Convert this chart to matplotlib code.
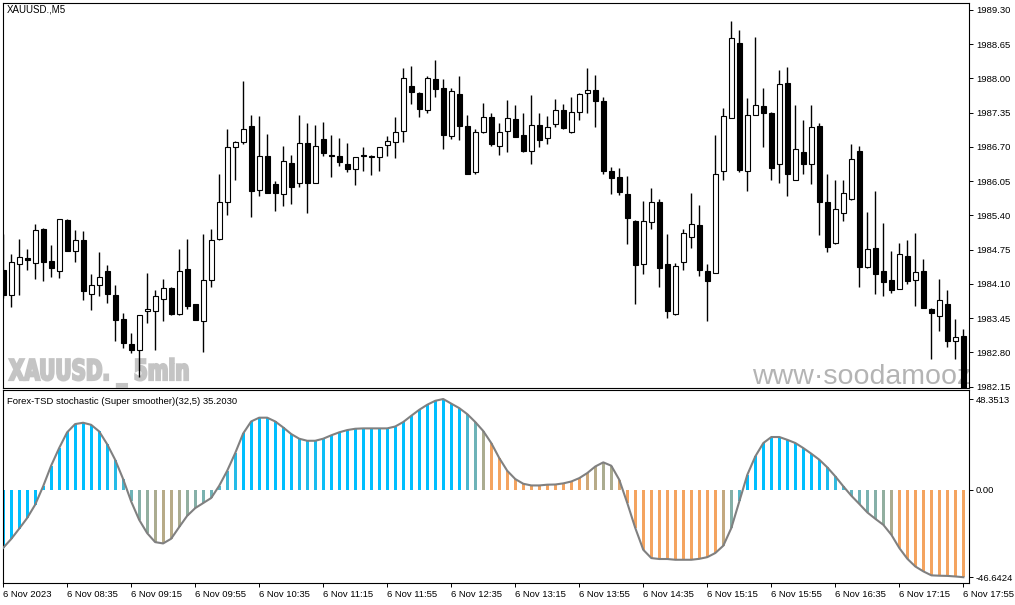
import numpy as np
import matplotlib
matplotlib.use("Agg")
import matplotlib.pyplot as plt
from matplotlib.colors import to_rgb
from matplotlib.patheffects import AbstractPathEffect
from matplotlib.transforms import Affine2D

# XAUUSD M5 candles, 6 Nov 2023
opens = [1984.37, 1983.88, 1984.47, 1984.60, 1984.49, 1985.15, 1984.53, 1984.35, 1985.32, 1984.73,
         1984.93, 1983.90, 1984.07, 1984.34, 1983.88, 1983.43, 1982.96, 1982.85, 1983.59, 1983.59,
         1983.82, 1984.03, 1983.53, 1984.39, 1983.71, 1983.40, 1984.18, 1984.95, 1985.66, 1986.70,
         1986.79, 1987.10, 1985.89, 1986.52, 1985.99, 1985.81, 1986.40, 1986.02, 1986.78, 1986.02,
         1986.84, 1986.55, 1986.52, 1986.38, 1986.27, 1986.55, 1986.53, 1986.50, 1986.74, 1986.80,
         1987.00, 1987.86, 1987.73, 1987.39, 1987.99, 1987.82, 1986.91, 1987.71, 1987.10, 1986.22,
         1986.98, 1987.27, 1986.72, 1987.00, 1987.22, 1986.92, 1986.62, 1987.12, 1986.87, 1987.14,
         1987.39, 1986.98, 1987.37, 1987.73, 1987.78, 1987.56, 1986.25, 1986.13, 1985.81, 1985.29,
         1984.48, 1985.28, 1985.66, 1984.47, 1983.52, 1984.51, 1984.99, 1985.21, 1984.34, 1984.31,
         1986.25, 1987.25, 1988.67, 1986.25, 1987.31, 1987.48, 1987.35, 1986.38, 1987.92, 1986.08,
         1986.61, 1986.38, 1987.10, 1985.66, 1984.87, 1985.45, 1985.71, 1986.63, 1984.42, 1984.79,
         1984.34, 1984.17, 1984.01, 1984.62, 1984.17, 1984.34, 1983.63, 1983.50, 1983.71, 1983.01,
         1983.12]
highs = [1985.04, 1984.66, 1984.96, 1984.77, 1985.23, 1985.16, 1984.83, 1985.34, 1985.34, 1985.13,
         1985.10, 1984.29, 1984.70, 1984.45, 1984.07, 1983.54, 1983.16, 1983.51, 1984.30, 1983.99,
         1984.20, 1984.04, 1984.77, 1984.96, 1983.71, 1985.04, 1985.15, 1986.18, 1987.04, 1986.82,
         1987.94, 1987.30, 1987.28, 1986.94, 1986.05, 1986.71, 1986.54, 1987.30, 1987.16, 1987.11,
         1987.18, 1986.92, 1986.86, 1986.77, 1986.50, 1986.69, 1986.54, 1986.70, 1986.90, 1987.26,
         1988.19, 1988.23, 1987.74, 1988.04, 1988.34, 1987.99, 1987.82, 1988.04, 1987.30, 1987.04,
         1987.54, 1987.35, 1987.16, 1987.58, 1987.49, 1987.34, 1987.68, 1987.35, 1987.28, 1987.60,
         1987.51, 1987.64, 1987.73, 1988.19, 1988.07, 1987.65, 1986.31, 1986.29, 1986.14, 1985.31,
         1985.67, 1985.91, 1985.71, 1985.04, 1984.49, 1985.15, 1985.82, 1985.59, 1984.47, 1986.92,
         1987.44, 1989.08, 1988.92, 1987.63, 1988.79, 1987.81, 1987.37, 1988.16, 1988.22, 1987.49,
         1987.20, 1987.49, 1987.16, 1986.19, 1986.08, 1986.08, 1986.76, 1986.72, 1985.46, 1985.86,
         1985.25, 1984.72, 1984.87, 1984.93, 1985.06, 1984.57, 1983.64, 1984.20, 1983.98, 1983.44,
         1983.25]
lows = [1983.84, 1983.67, 1983.89, 1984.36, 1984.20, 1984.15, 1984.23, 1984.22, 1984.73, 1984.52,
        1983.79, 1983.60, 1983.87, 1983.74, 1983.02, 1982.89, 1982.78, 1982.34, 1983.36, 1982.85,
        1983.39, 1983.51, 1983.51, 1983.63, 1983.41, 1982.81, 1984.04, 1984.94, 1985.40, 1986.08,
        1986.75, 1985.37, 1985.76, 1985.83, 1985.48, 1985.58, 1985.62, 1985.94, 1985.45, 1986.01,
        1986.53, 1986.13, 1986.33, 1986.22, 1985.98, 1986.24, 1986.17, 1986.25, 1986.52, 1986.49,
        1986.79, 1987.51, 1987.27, 1987.35, 1987.64, 1986.66, 1986.85, 1986.83, 1986.19, 1986.19,
        1986.96, 1986.72, 1986.54, 1986.61, 1986.89, 1986.61, 1986.37, 1986.70, 1986.75, 1987.08,
        1987.04, 1986.96, 1987.20, 1987.35, 1987.08, 1986.19, 1985.81, 1985.78, 1984.85, 1983.72,
        1984.29, 1985.14, 1984.04, 1983.46, 1983.51, 1984.37, 1984.78, 1984.25, 1983.40, 1984.30,
        1986.08, 1987.24, 1986.22, 1985.86, 1987.30, 1986.70, 1986.08, 1986.02, 1985.77, 1986.08,
        1986.19, 1986.00, 1985.03, 1984.71, 1984.86, 1985.29, 1985.70, 1984.04, 1984.41, 1983.91,
        1983.87, 1983.92, 1984.00, 1984.09, 1983.68, 1983.65, 1982.68, 1983.21, 1982.91, 1982.67,
        1981.95]
closes = [1983.89, 1984.52, 1984.61, 1984.56, 1985.13, 1984.52, 1984.40, 1985.34, 1984.73, 1984.93,
          1983.97, 1984.07, 1984.24, 1983.91, 1983.41, 1982.97, 1982.85, 1983.51, 1983.63, 1983.87,
          1984.03, 1983.53, 1984.35, 1983.68, 1983.41, 1984.18, 1984.94, 1985.66, 1986.70, 1986.79,
          1987.03, 1985.86, 1986.53, 1985.83, 1985.83, 1986.44, 1985.94, 1986.78, 1986.02, 1986.72,
          1986.58, 1986.53, 1986.41, 1986.28, 1986.50, 1986.53, 1986.51, 1986.70, 1986.82, 1986.99,
          1988.01, 1987.74, 1987.42, 1988.01, 1987.80, 1986.92, 1987.75, 1987.09, 1986.19, 1986.98,
          1987.27, 1986.75, 1986.99, 1987.25, 1986.89, 1986.63, 1987.12, 1986.83, 1987.08, 1987.39,
          1987.05, 1987.37, 1987.71, 1987.77, 1987.57, 1986.25, 1986.11, 1985.85, 1985.35, 1984.46,
          1985.30, 1985.66, 1984.40, 1983.58, 1984.43, 1985.06, 1985.24, 1984.37, 1984.16, 1986.19,
          1987.29, 1988.77, 1986.26, 1987.31, 1987.50, 1987.35, 1986.30, 1987.90, 1986.19, 1986.65,
          1986.38, 1987.08, 1985.66, 1984.80, 1985.53, 1985.83, 1986.46, 1984.42, 1984.77, 1984.29,
          1984.14, 1983.99, 1984.66, 1984.16, 1984.32, 1983.65, 1983.54, 1983.80, 1983.01, 1983.10,
          1982.00]

# Forex-TSD stochastic (Super smoother)(32,5)
osc = [-31.0, -26.3, -20.8, -15.1, -8.0, 1.8, 12.8, 22.2, 30.6, 35.0,
       35.7, 34.6, 31.1, 24.3, 16.0, 5.7, -6.2, -16.0, -23.1, -27.9,
       -28.6, -26.1, -19.9, -13.9, -9.8, -7.1, -4.4, 2.1, 10.1, 19.5,
       30.0, 36.4, 38.4, 38.4, 36.4, 33.2, 29.7, 27.2, 26.1, 26.1,
       27.2, 29.0, 30.6, 31.8, 32.5, 32.7, 32.7, 32.7, 32.7, 33.7,
       36.1, 39.4, 42.6, 45.3, 47.4, 48.35, 45.9, 43.5, 40.3, 36.1,
       31.3, 24.9, 16.9, 10.1, 5.7, 3.2, 2.3, 2.3, 2.7, 2.8,
       3.4, 4.4, 6.2, 8.9, 12.4, 14.6, 12.8, 5.3, -7.1, -20.4,
       -32.0, -36.4, -36.9, -36.9, -37.3, -37.3, -37.3, -36.8, -35.9, -33.7,
       -29.8, -20.4, -6.2, 8.0, 17.8, 24.9, 28.1, 28.1, 26.6, 24.9,
       22.2, 19.2, 16.0, 11.9, 7.1, 1.8, -3.2, -7.6, -12.1, -15.5,
       -18.7, -24.0, -31.1, -36.8, -40.9, -43.5, -45.6, -45.8, -45.9, -46.2,
       -46.6]
# colour buffer: 0 = up colour, 1 = down colour
osc_mix = [0, 0, 0, 0, 0, 0, 0, 0, 0, 0,
           0, 0, 0, 0.05, 0.15, 0.3, 0.45, 0.55, 0.6, 0.7,
           0.75, 0.75, 0.7, 0.6, 0.55, 0.5, 0.45, 0.35, 0.25, 0.15,
           0, 0, 0, 0, 0, 0, 0, 0.1, 0.12, 0.1,
           0.05, 0, 0, 0, 0, 0, 0, 0, 0, 0,
           0, 0, 0, 0, 0, 0, 0, 0, 0.3, 0.45,
           0.7, 1, 1, 1, 1, 1, 1, 1, 1, 1,
           1, 1, 1, 0.85, 0.75, 0.7, 0.7, 0.9, 1, 1,
           1, 1, 1, 1, 1, 1, 1, 1, 1, 1,
           0.8, 0.55, 0.35, 0, 0, 0, 0, 0, 0, 0,
           0, 0, 0, 0.1, 0.2, 0.3, 0.4, 0.45, 0.5, 0.55,
           0.6, 0.7, 1, 1, 1, 1, 1, 1, 1, 1,
           1]

price_ticks = [1989.30, 1988.65, 1988.00, 1987.35, 1986.70, 1986.05,
               1985.40, 1984.75, 1984.10, 1983.45, 1982.80, 1982.15]
osc_ticks = [48.3513, 0.0, -46.6424]
osc_tick_labels = ['48.3513', '0.00', '-46.6424']
time_labels = ['6 Nov 2023', '6 Nov 08:35', '6 Nov 09:15', '6 Nov 09:55', '6 Nov 10:35',
               '6 Nov 11:15', '6 Nov 11:55', '6 Nov 12:35', '6 Nov 13:15', '6 Nov 13:55',
               '6 Nov 14:35', '6 Nov 15:15', '6 Nov 15:55', '6 Nov 16:35', '6 Nov 17:15',
               '6 Nov 17:55']

plt.rcParams['font.family'] = ['Liberation Sans', 'DejaVu Sans']


class Squeeze(AbstractPathEffect):
    """Draw text narrower and heavier (condensed bold look) about a pixel x."""
    def __init__(self, sx, x0, stroke):
        super().__init__()
        self.sx, self.x0, self.stroke = sx, x0, stroke

    def draw_path(self, renderer, gc, tpath, affine, rgbFace=None):
        squeeze = Affine2D().translate(-self.x0, 0).scale(self.sx, 1).translate(self.x0, 0)
        gc0 = renderer.new_gc()
        gc0.copy_properties(gc)
        gc0.set_linewidth(self.stroke)
        gc0.set_foreground(rgbFace)
        gc0.set_joinstyle('miter')
        renderer.draw_path(gc0, tpath, affine + squeeze, rgbFace)
        gc0.restore()


W, H = 1015, 605
fig = plt.figure(figsize=(W / 100, H / 100), dpi=100)
ax1 = fig.add_axes([2.5 / W, 1 - 388 / H, 966.5 / W, 385.5 / H])
ax2 = fig.add_axes([2.5 / W, 1 - 583 / H, 966.5 / W, 193 / H])

o, h, l, c = map(np.array, (opens, highs, lows, closes))
x = np.arange(len(o))

# 1. candles
ax1.vlines(x, l, h, color='black', linewidth=1.0, zorder=2)
body_low = np.minimum(o, c)
body_h = np.maximum(np.abs(c - o), 0.012)
ax1.bar(x, body_h, bottom=body_low, width=0.62,
        color=np.where(c >= o, 'white', 'black'), edgecolor='black',
        linewidth=0.8, zorder=3)
ax1.set_xlim(-0.075, 120.7)
ax1.set_ylim(1982.125, 1989.438)
ax1.set_xticks([])
ax1.yaxis.tick_right()
ax1.set_yticks(price_ticks)
ax1.set_yticklabels([f'{p:.2f}' for p in price_ticks])

# watermarks (behind the candles)
ax1.text(9 / W, 1 - 380 / H, 'XAUUSD. _ 5min', transform=fig.transFigure,
         family='DejaVu Sans', fontweight='bold', fontsize=20.5, color='#C4C4C4',
         va='baseline', ha='left', zorder=0.5,
         path_effects=[Squeeze(0.70, 9, 1.6)])
ax1.text(752 / W, 1 - 384 / H, 'www·soodamooz·com', transform=fig.transFigure,
         fontsize=20.5, color='#B4B4B4', va='baseline', ha='left', zorder=0.5,
         clip_on=True)

# 2. oscillator histogram
blue = np.array(to_rgb('#00BFFF'))
orange = np.array(to_rgb('#F4A460'))
bar_colors = [tuple(blue * (1 - m) + orange * m) for m in osc_mix]
ax2.bar(x, osc, width=0.36, color=bar_colors, linewidth=0, zorder=2)
ax2.plot(x, osc, color='#808080', linewidth=1.5, zorder=3)
ax2.set_xlim(-0.075, 120.7)
ax2.set_ylim(-49.68, 53.15)
ax2.yaxis.tick_right()
ax2.set_yticks(osc_ticks)
ax2.set_yticklabels(osc_tick_labels)
ax2.set_xticks(np.arange(0, len(x), 8))
ax2.set_xticklabels(time_labels, ha='left')

for ax in (ax1, ax2):
    for s in ax.spines.values():
        s.set_linewidth(0.8)
        s.set_color('black')
    ax.tick_params(axis='both', direction='out', length=3, width=0.7,
                   pad=2, labelsize=6.8, colors='black')

fig.text(7 / W, 1 - 10 / H, 'XAUUSD.,M5', fontsize=7, va='center', ha='left')
fig.text(7 / W, 1 - 401 / H, 'Forex-TSD stochastic (Super smoother)(32,5) 35.2030',
         fontsize=6.8, va='center', ha='left')

fig.savefig('out.png', dpi=100)
